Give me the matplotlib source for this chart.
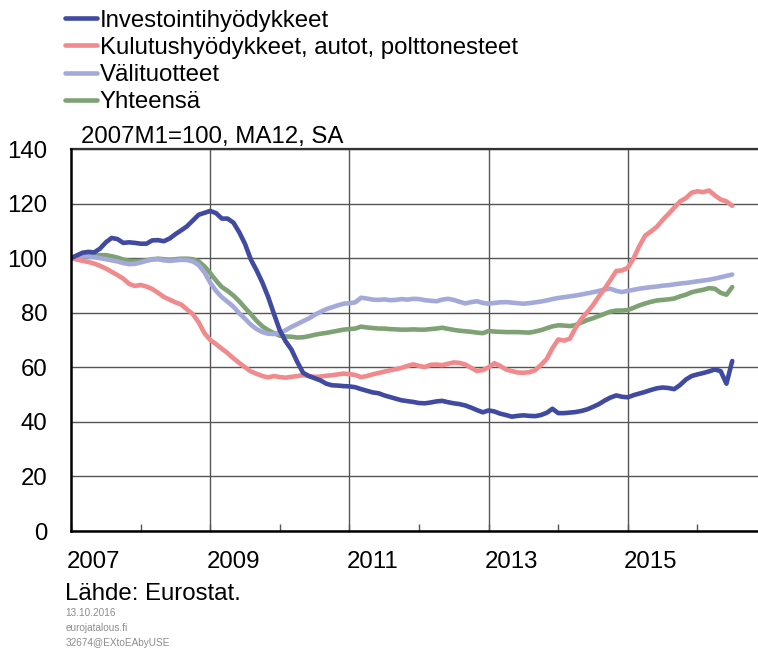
import matplotlib.pyplot as plt
import numpy as np
from matplotlib import transforms

plt.rcParams['font.family'] = ['Liberation Sans', 'DejaVu Sans']

# monthly data, 2007M1 = 100, MA12, SA
start_year = 2007
investointi = [
    100, 101, 102, 102.3, 102.1, 103.5, 105.8, 107.4, 107, 105.6, 105.8, 105.6,
    105.3, 105.3, 106.5, 106.6, 106.2, 107.2, 108.8, 110.2, 111.7, 113.8, 115.9, 116.6,
    117.3, 116.5, 114.5, 114.5, 113, 109.5, 105.2, 99.5, 95.5, 91, 85.7, 79.5,
    73.5, 69.5, 66.5, 62, 58, 56.8, 56, 55.2, 54, 53.4, 53.3, 53.1,
    53, 52.7, 52, 51.4, 50.8, 50.5, 49.7, 49.1, 48.5, 47.9, 47.6, 47.3,
    46.9, 46.8, 47.1, 47.5, 47.7, 47.2, 46.8, 46.5, 46, 45.2, 44.3, 43.5,
    44.2, 43.8, 43, 42.5, 41.9, 42.2, 42.4, 42.2, 42.1, 42.5, 43.3, 44.8,
    43.2, 43.2, 43.4, 43.6, 44, 44.6, 45.5, 46.5, 47.8, 48.9, 49.7, 49.2,
    49, 49.8, 50.4, 51, 51.7, 52.3, 52.6, 52.4, 52, 53.5, 55.5, 56.8,
    57.4, 57.9, 58.5, 59.2, 58.6, 54, 62.3,
]
kulutus = [
    100, 99.5, 99, 98.6, 98, 97.2, 96.2, 95, 93.8, 92.5, 90.6, 89.8,
    90.2, 89.6, 88.7, 87.3, 85.8, 84.8, 83.8, 83, 81.2, 79.5, 76.5, 72.5,
    70, 68.5, 66.8, 65.2, 63.3, 61.6, 60, 58.5, 57.6, 56.8, 56.3, 56.8,
    56.4, 56.2, 56.5, 56.8, 57.1, 56.8, 56.5, 56.6, 56.9, 57.1, 57.4, 57.7,
    57.5, 57.2, 56.4, 56.8, 57.4, 57.9, 58.4, 58.9, 59.3, 59.8, 60.5, 61.1,
    60.5, 60.1, 60.9, 61, 60.8, 61.3, 61.8, 61.6, 61, 59.8, 58.6, 59,
    60, 61.5, 60.5, 59.2, 58.6, 58.1, 58, 58.2, 58.9, 60.8, 63, 67,
    70.2, 69.8, 70.5, 74.5, 77.8, 80.2, 82.8, 86, 88.8, 92, 95.3, 95.5,
    96.5, 100, 104.5, 108.3, 109.8, 111.5, 114, 116.2, 118.5, 120.8, 122, 124,
    124.5, 124.2, 124.8, 123, 121.5, 120.8, 119.2,
]
valituotteet = [
    100, 100.3, 100.6, 100.6, 100.4, 100, 99.6, 99.2, 98.8, 98.2, 97.8, 97.9,
    98.4, 99, 99.5, 99.6, 99.2, 99, 99.2, 99.4, 99.3, 98.8, 97.5, 94.8,
    91, 88, 85.7, 84, 82.2, 79.8, 77.8, 75.6, 74, 72.9, 72.3, 72.2,
    72.6, 73.6, 74.8, 75.8, 76.9, 77.9, 79.2, 80.3, 81.3, 82, 82.7, 83.3,
    83.5, 83.8, 85.5, 85.2, 84.8, 84.7, 84.9, 84.6, 84.7, 85, 84.8, 85.1,
    85, 84.6, 84.4, 84.2, 84.8, 85.1, 84.7, 84, 83.4, 83.9, 84.2, 83.6,
    83.3, 83.6, 83.8, 83.9, 83.7, 83.5, 83.3, 83.5, 83.8, 84.1, 84.5, 85,
    85.4, 85.7, 86, 86.3, 86.7, 87.1, 87.5, 88, 88.5, 88.8, 88, 87.6,
    88, 88.4, 88.8, 89.1, 89.4, 89.6, 89.9, 90.1, 90.4, 90.7, 90.9, 91.2,
    91.5, 91.8, 92.1, 92.5, 93, 93.5, 94,
]
yhteensa = [
    100, 100.4, 100.7, 100.9, 101, 101.1, 101.1, 100.7, 100.2, 99.5, 99, 98.9,
    99, 99.2, 99.6, 99.8, 99.6, 99.4, 99.6, 99.8, 99.8, 99.6, 98.8, 97,
    94.5, 91.8, 89.4, 88, 86.3, 84.2, 81.8, 79.5, 77, 75, 73.6, 72.5,
    71.6, 71.3, 71.2, 70.9, 71, 71.4, 71.9, 72.3, 72.6, 73, 73.4, 73.8,
    74, 74.2, 74.9, 74.6, 74.4, 74.2, 74.2, 74, 73.9, 73.8, 73.8, 73.9,
    73.8, 73.8, 74, 74.2, 74.5, 74.1, 73.7, 73.4, 73.2, 73, 72.7, 72.5,
    73.3, 73.1, 73, 72.9, 72.9, 72.9, 72.8, 72.7, 73.1, 73.6, 74.3, 75,
    75.4, 75.3, 75.1, 75.5, 76.4, 77.3, 78, 78.8, 79.6, 80.4, 80.8, 80.8,
    81, 81.8, 82.7, 83.4, 84, 84.5, 84.7, 84.9, 85.2, 86, 86.6, 87.5,
    88, 88.4, 89, 88.8, 87.3, 86.6, 89.4,
]
labels = ['Investointihyödykkeet', 'Kulutushyödykkeet, autot, polttonesteet',
          'Välituotteet', 'Yhteensä']
colors = ['#3f4aa0', '#f08a8c', '#a3aada', '#7fa274']
year_labels = [2007, 2009, 2011, 2013, 2015]
yticks = [0, 20, 40, 60, 80, 100, 120, 140]

fs = 17.3
x = start_year + np.arange(len(investointi)) / 12.0

fig = plt.figure(figsize=(7.58, 6.49), dpi=100)
ax = fig.add_axes([0.0937, 0.1818, 0.9063, 0.5886])

series = [investointi, kulutus, valituotteet, yhteensa]
# total drawn first, others on top
order = [3, 2, 1, 0]
handles = [None] * 4
for k in order:
    h, = ax.plot(x, series[k], color=colors[k], lw=3.3, solid_capstyle='round',
                 solid_joinstyle='round', label=labels[k])
    handles[k] = h

ax.set_xlim(2007, 2016.87)
ax.set_ylim(0, 140)
ax.set_yticks(yticks)
ax.tick_params(axis='y', length=0, pad=17, labelsize=fs)
ax.grid(axis='y', color='#555555', lw=1.0)

# vertical grid every second year, small inward ticks every year
for yr in year_labels[1:]:
    ax.axvline(yr, color='#555555', lw=1.0, zorder=0.5)
ax.set_xticks(np.arange(2007, 2017))
ax.set_xticklabels([])
ax.tick_params(axis='x', direction='in', length=5, width=1, color='#555555')
tr = transforms.blended_transform_factory(ax.transData, ax.transAxes)
for yr in year_labels:
    ax.text(yr + 0.33, -0.097, str(yr), transform=tr, ha='center',
            va='baseline', fontsize=fs)

for s in ['top', 'right']:
    ax.spines[s].set_visible(False)
ax.spines['left'].set_linewidth(1.8)
ax.spines['bottom'].set_linewidth(1.8)
ax.axhline(140, color='#333333', lw=1.6, clip_on=False)

leg = fig.legend(handles=handles, labels=labels, loc='upper left',
                 bbox_to_anchor=(0.073, 1.0), frameon=False, fontsize=fs,
                 handlelength=1.33, handletextpad=0.12, labelspacing=0.22,
                 borderaxespad=0)

fig.text(0.107, 1 - 143 / 649, '2007M1=100, MA12, SA', fontsize=fs,
         ha='left', va='baseline')
fig.text(0.086, 1 - 600 / 649, 'Lähde: Eurostat.', fontsize=fs,
         ha='left', va='baseline')
fig.text(0.086, 1 - 608 / 649, '13.10.2016\neurojatalous.fi\n32674@EXtoEAbyUSE',
         fontsize=7.2, color='#8c8c8c', ha='left', va='top', linespacing=1.6)

fig.savefig('out.png', dpi=100)
